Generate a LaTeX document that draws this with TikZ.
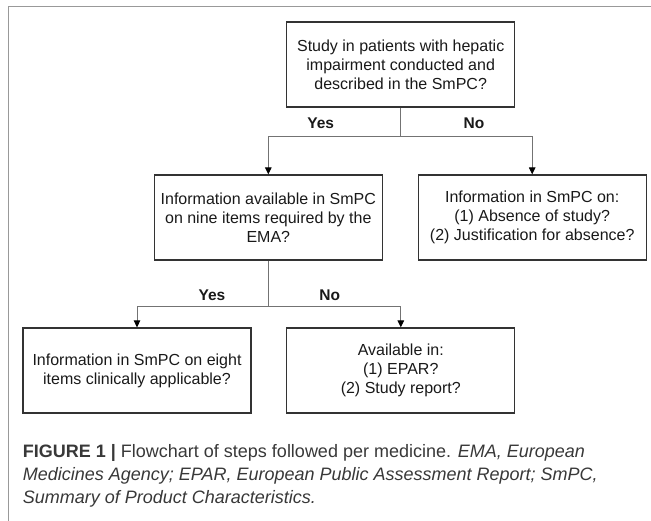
\documentclass[tikz,border=0pt]{standalone}
\usepackage{fontspec}
\setmainfont{Liberation Sans}
\usepackage{xcolor}
\usetikzlibrary{arrows.meta}

\begin{document}
\begin{tikzpicture}[x=1pt,y=-1pt]
        \tikzset{qbox/.style={draw=black!80, line width=1.2pt, minimum width=228pt, minimum height=85pt, inner sep=0pt, align=center, text=black!90, font=\fontsize{16}{19}\selectfont}}
        \tikzset{flow/.style={draw=black!55, line width=0.9pt}}
        \tikzset{flowarr/.style={flow, -{Triangle[length=7pt, width=6.5pt, color=black]}}}
        \tikzset{answer/.style={inner sep=0pt, text=black!90, font=\bfseries\fontsize{15.5}{18}\selectfont}}

        \useasboundingbox (0,0) rectangle (651,521);

        % frame
        \draw[black!40, line width=1.5pt] (8.5,521) -- (8.5,6.5) -- (651,6.5);

        \node[qbox] (study) at (400.7,64.5) {Study in patients with hepatic\\impairment conducted and\\described in the SmPC?};
        \node[qbox] (nine) at (268.3,217.5) {Information available in SmPC\\on nine items required by the\\EMA?};
        \node[qbox] (absence) at (532.2,217.5) {Information in SmPC on:\\(1) Absence of study?\\(2) Justification for absence?};
        \node[qbox] (eight) at (137,370.5) {Information in SmPC on eight\\items clinically applicable?};
        \node[qbox] (elsewhere) at (400.8,370.5) {Available in:\\(1) EPAR?\\(2) Study report?};

        \coordinate (split1) at (400.7,136);
        \coordinate (split2) at (268.3,306.7);

        \draw[flow] (study) -- (split1);
        \draw[flowarr] (split1) -| (nine);
        \draw[flowarr] (split1) -| (absence);

        \draw[flow] (nine) -- (split2);
        \draw[flowarr] (split2) -| (eight);
        \draw[flowarr] (split2) -| (elsewhere);

        \node[answer] (yes1) at (320.7,123) {Yes};
        \node[answer] (no1) at (474,123) {No};
        \node[answer] (yes2) at (212,295) {Yes};
        \node[answer] (no2) at (329.7,295) {No};

        \node[anchor=north west, inner sep=0pt, align=left, text=black!78, font=\fontsize{18}{23}\selectfont] (caption) at (22.7,444)
            {\textbf{FIGURE 1 |} Flowchart of steps followed per medicine. \textit{EMA, European}\\
             \textit{Medicines Agency; EPAR, European Public Assessment Report; SmPC,}\\
             \textit{Summary of Product Characteristics.}};

\end{tikzpicture}
\end{document}
